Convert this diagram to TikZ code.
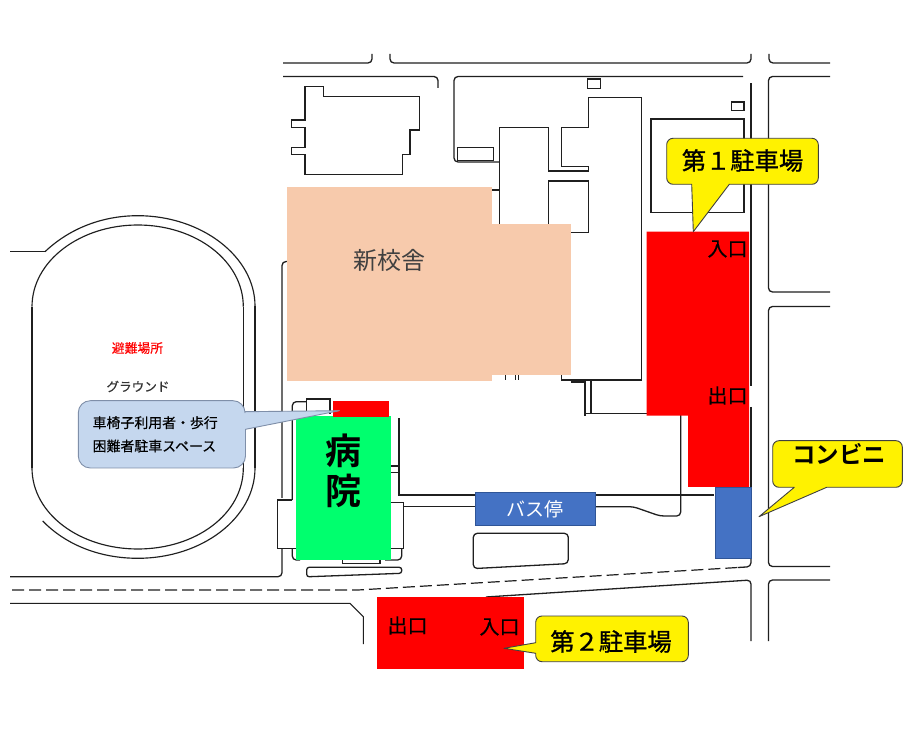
\documentclass[tikz,border=0pt]{standalone}
\usepackage{fontspec}
\setmainfont[FakeBold=0.4]{Noto Sans CJK JP}
\newfontfamily\plaincjk{Noto Sans CJK JP}
\newfontfamily\heavycjk[FakeBold=1.0]{Noto Sans CJK JP}
\newfontfamily\boldcjk{Noto Sans CJK JP Bold}
\newcommand{\fs}[1]{\fontsize{#1}{#1}\selectfont}
\definecolor{peach}{HTML}{F7CAAC}
\definecolor{hosp}{HTML}{00FF6E}
\definecolor{busblue}{HTML}{4472C4}
\definecolor{busedge}{HTML}{2F5597}
\definecolor{pale}{HTML}{C5D7EE}
\definecolor{paleedge}{HTML}{7F8FA9}
\definecolor{newtext}{HTML}{404040}
\tikzset{
 x=1pt,y=-1pt,
 map/.style={draw=black!88,line width=1.4pt,line join=miter},
 soft/.style={draw=black!88,line width=1.3pt,rounded corners=4pt},
 arcline/.style={draw=black!88,line width=1.15pt},
 parking/.style={fill=red,draw=none},
 yellowbox/.style={fill=yellow,draw=black!75,line width=.9pt,line join=round},
 palebox/.style={fill=pale,draw=paleedge,line width=.9pt,line join=round},
 lbl/.style={inner sep=0pt,outer sep=0pt,text=black},
}
\begin{document}
\begin{tikzpicture}
\useasboundingbox (0,0) rectangle (914,743);
\fill[white] (0,0) rectangle (914,743);
% roads
\draw[soft] (283,63) -- (372,63) -- (372,54);
\draw[soft] (390,54) -- (390,63) -- (751,63) -- (751,54);
\draw[soft] (769,54) -- (769,63) -- (830,63);
\draw[soft] (283,76.5) -- (438,76.5) -- (438,88);
\draw[soft] (743,76.5) -- (454,76.5) -- (454,162) -- (499,162);
\draw[map] (751,83.5) -- (751,386);
\draw[map] (751,407) -- (751,488);
\draw[soft] (830,76.5) -- (768.5,76.5) -- (768.5,292) -- (830,292);
\draw[soft] (830,306.5) -- (768.5,306.5) -- (768.5,566.5) -- (830,566.5);
\draw[soft] (830,580) -- (768.5,580) -- (768.5,641);
\draw[soft] (751,641) -- (751,580) -- (486,597);
\draw[soft] (751,558) -- (751,566.7) -- (738,567.5);
\draw[map,line width=1.2pt,dash pattern=on 12pt off 5pt] (12,590) -- (358,590) -- (738,567.5);
\draw[soft] (10,576.7) -- (282,576.7) -- (282,548);
\draw[soft] (282,498) -- (282,261.5) -- (287,261.5);
\draw[map,line width=1.1pt] (10,603.3) -- (350,603.3) -- (363.3,616.7) -- (363.3,644);
% stadium
\draw[arcline,line width=1.3pt] (10,251.7) -- (45,251.7);
\draw[arcline] (45,251.7) .. controls (70,228) and (103,215.7) .. (137.8,215.7) .. controls (202,215.7) and (255,257) .. (255,306);
\draw[map] (255,306) -- (255,468);
\draw[arcline] (255,468) .. controls (255,518) and (202,558.3) .. (137.8,558.3) .. controls (100,558.3) and (66,545) .. (42.7,521);
\draw[arcline] (32,306.7) .. controls (32,261) and (80,225) .. (137.8,225) .. controls (196,225) and (243.3,261) .. (243.3,306.7);
\draw[map] (243.3,306.7) -- (243.3,468);
\draw[arcline] (243.3,468) .. controls (243.3,514) and (196,549) .. (137.8,549) .. controls (80,549) and (32,514) .. (32,468);
\draw[map] (32,468) -- (32,306.7);
% left building
\draw[map] (305,86.7) -- (323.3,86.7) -- (323.3,96.7) -- (419.3,96.7) -- (419.3,130) -- (410,130) -- (410,154.7) -- (402.3,154.7) -- (402.3,174.3) -- (305,174.3) -- (305,154.7) -- (291.7,154.7) -- (291.7,147.7) -- (305,147.7) -- (305,127.7) -- (291.7,127.7) -- (291.7,120) -- (305,120) -- cycle;
\draw[map] (457.7,147.7) rectangle (493.3,160.7);
\draw[map] (587.5,79) rectangle (600.5,88.5);
% main building
\draw[map] (491.7,190) -- (499.3,190);
\draw[map] (499.3,226) -- (499.3,127.7) -- (548.7,127.7) -- (548.7,171) -- (588.3,171) -- (588.3,166.7) -- (561.7,166.7) -- (561.7,127.7) -- (588.3,127.7) -- (588.3,97.3) -- (641.3,97.3) -- (641.3,380) -- (561.7,380) -- (561.7,374);
\draw[map] (548.7,226) -- (548.7,181) -- (588.3,181) -- (588.3,232.3) -- (570,232.3);
\draw[map,line width=1pt] (505,374) -- (505,380) (515,374) -- (515,380) (518,374) -- (518,380);
\draw[map,line width=2.2pt] (570.7,381.7) -- (585,381.7) -- (585,415.7);
\draw[map] (586,413.3) -- (591,413.3) -- (591,380);
\draw[map] (591,413.3) -- (647,413.3);
% first parking lot outlines
\draw[map] (651,119) rectangle (744,212.7);
\draw[map] (731.3,102) rectangle (744,110.3);
% hospital outlines
\draw[map] (292.3,500) -- (277.3,500) -- (277.3,548.3) -- (296,548.3);
\draw[map] (391,502.7) -- (403.3,502.7) -- (403.3,548.3) -- (391,548.3);
\draw[soft] (292.3,500) -- (292.3,401.7) -- (306.7,401.7);
\draw[map] (306.7,414) -- (306.7,399) -- (330,399) -- (330,414);
\draw[soft] (292.3,548) -- (292.3,560) -- (300,560);
\draw[soft] (385,560) -- (401.7,560) -- (401.7,548);
\draw[map] (342.7,558) -- (342.7,563.3) -- (380,563.3) -- (380,558);
\draw[soft,rounded corners=2.5pt] (306.7,567.3) -- (401.7,567.3) -- (401.7,573.3) -- (306.7,576.8) -- cycle;
\draw[map] (399,418.3) -- (399,495) -- (475,495);
\draw[map] (403.3,506.7) -- (475,506.7);
\draw[map] (391,466) -- (399,466) (391,472.3) -- (399,472.3);
\draw[map] (595,495) -- (714.3,495);
\draw[soft] (595,506.7) -- (633.3,506.7) -- (660,516) -- (680.7,516) -- (680.7,415);
\draw[soft] (473.3,533.3) -- (568.3,533.3) -- (568.3,563.6) -- (473.3,568.6) -- cycle;
% fills
\fill[peach] (287.3,186.7) rectangle (491.7,225);
\fill[peach] (286.7,224.3) rectangle (570.7,375);
\fill[peach] (286.7,375) rectangle (491.7,380.7);
\fill[parking] (646.7,231.7) -- (749,231.7) -- (749,487) -- (688,487) -- (688,415.7) -- (646.7,415.7) -- cycle;
\fill[parking] (376.7,597.3) rectangle (524.3,669.3);
\fill[hosp] (296,416) rectangle (391,560);
\fill[parking] (333.3,400.7) rectangle (389,417.3);
\draw[fill=busblue,draw=busedge,line width=.8pt] (715,487.7) rectangle (751.7,558.3);
\node[draw=busedge,fill=busblue,line width=.8pt,minimum width=119.3pt,minimum height=32.3pt,inner sep=0pt,text=white] (busstop) at (535.4,508.9) {\plaincjk\fs{19}バス停};
% texts
\node[lbl,text=newtext] (school) at (389,260) {\plaincjk\fs{24}新校舎};
\node[lbl,text=red] (shelter) at (137.5,348) {\fs{12.8}避難場所};
\node[lbl,text=black!80] (ground) at (138,386.5) {\fs{12.6}グラウンド};
\node[lbl] (in1) at (727.5,249) {\fs{20}入口};
\node[lbl] (out1) at (727.5,395.5) {\fs{20}出口};
\node[lbl] (out2) at (407.5,625.5) {\fs{20}出口};
\node[lbl] (in2) at (499.5,627) {\fs{20}入口};
\node[lbl] (hospA) at (343.3,451) {\boldcjk\fs{36}病};
\node[lbl] (hospB) at (343.3,491) {\boldcjk\fs{36}院};
% callouts
\draw[palebox] (339.3,410.7) -- (245.5,429.3) [rounded corners=12pt] -- (245.5,468) -- (78.3,468) -- (78.3,400.7) -- (245,400.7) [sharp corners] -- (245,411.7) -- cycle;
\node[lbl,anchor=west] (wheel1) at (92.7,422.7) {\fs{13.9}車椅子利用者・歩行};
\node[lbl,anchor=west] (wheel2) at (92.7,446) {\fs{13.9}困難者駐車スペース};
\draw[yellowbox] (693.3,231.7) -- (691.7,184.3) [rounded corners=6.3pt] -- (666.7,184.3) -- (666.7,138.3) -- (818.3,138.3) -- (818.3,184.3) [sharp corners] -- (729.3,184.3) -- cycle;
\node[lbl] (lotA) at (742.5,160.5) {\heavycjk\fs{24.3}第１駐車場};
\draw[yellowbox] (504,648.3) -- (535.7,642.7) [rounded corners=6.3pt] -- (535.7,616) -- (688.3,616) -- (688.3,661.7) -- (535.7,661.7) [sharp corners] -- (535.7,653.3) -- cycle;
\node[lbl] (lotB) at (611,641.5) {\heavycjk\fs{24.3}第２駐車場};
\draw[yellowbox] (759,516.7) -- (794.3,487.3) [rounded corners=6.3pt] -- (772.7,487.3) -- (772.7,440.7) -- (902.3,440.7) -- (902.3,487.3) [sharp corners] -- (826.7,487.3) -- cycle;
\node[lbl] (conv) at (839,454) {\boldcjk\fs{23.5}コンビニ};
\end{tikzpicture}
\end{document}
